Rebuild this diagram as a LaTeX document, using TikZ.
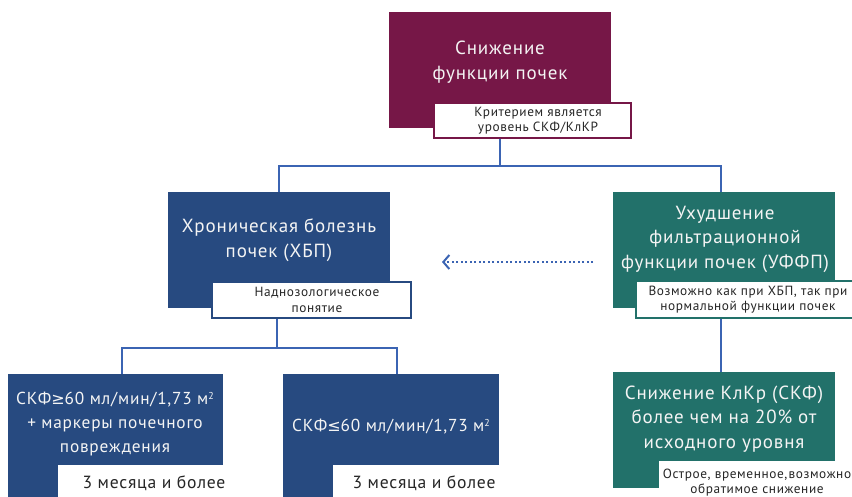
\documentclass[tikz,border=0pt]{standalone}
\usepackage{fontspec}
\setmainfont{PT Sans}[LetterSpace=4.5]
\newfontfamily\symfont{DejaVu Sans}
\usetikzlibrary{arrows.meta}
\definecolor{maroon}{HTML}{761747}
\definecolor{dblue}{HTML}{274A80}
\definecolor{teal2}{HTML}{22716A}
\definecolor{lblue}{HTML}{3B64B3}
\definecolor{offwhite}{HTML}{F4F4F4}
\newcommand{\sqm}{\raisebox{0.6ex}{\fontsize{10}{10}\selectfont 2}}
\tikzset{
  box/.style={rectangle, inner sep=0pt, draw=none},
  maintext/.style={text=offwhite, align=center, font=\fontsize{19}{24.5}\selectfont},
  smalltext/.style={text=offwhite, align=center, font=\fontsize{17.3}{24}\selectfont},
  lab/.style={rectangle, fill=white, line width=1.4pt, inner sep=0pt},
  labtext/.style={text=black!85, align=center, font=\fontsize{13.3}{15.5}\selectfont},
  bigtext/.style={text=black!85, font=\fontsize{17.6}{20}\selectfont},
  conn/.style={lblue, line width=1.5pt},
}
\begin{document}
\begin{tikzpicture}[x=1pt,y=-1pt]
\useasboundingbox (0,0) rectangle (852,496);
% top
\node[box, fill=maroon, minimum width=222pt, minimum height=116pt] (m) at (500,70) {};
\node[maintext] (mt) at (500,62) {Снижение\\функции почек};
\node[lab, draw=maroon, minimum width=197pt, minimum height=35pt] (ml) at (532.5,120.5) {};
\node[labtext] (mlt) at (538,120.5) {Критерием является\\уровень СКФ/КлКР};
% middle left
\node[box, fill=dblue, minimum width=222pt, minimum height=116pt] (h) at (279,250) {};
\node[maintext] (ht) at (279,240) {Хроническая болезнь\\почек (ХБП)};
\node[lab, draw=dblue, minimum width=199pt, minimum height=36pt] (hl) at (311.5,300) {};
\node[labtext] (hlt) at (317,300) {Наднозологическое\\понятие};
% middle right
\node[box, fill=teal2, minimum width=222pt, minimum height=116pt] (u) at (724,250) {};
\node[maintext] (ut) at (725,239) {Ухудшение\\фильтрационной\\функции почек (УФФП)};
\node[lab, draw=teal2, minimum width=224pt, minimum height=37pt] (ul) at (748,299.5) {};
\node[labtext] (ult) at (748,299.5) {Возможно как при ХБП, так при\\нормальной функции почек};
% bottom left
\node[box, fill=dblue, minimum width=215pt, minimum height=140pt] (b1) at (115.5,444) {};
\node[smalltext] (b1t) at (115,424) {СКФ{\symfont\fontsize{16}{16}\selectfont ≥}60 мл/мин/1,73 м\sqm\\+ маркеры почечного\\повреждения};
\node[lab, draw=white, minimum width=183pt, minimum height=50pt] (b1l) at (150.5,491) {};
\node[bigtext] (b1lt) at (154,483) {3 месяца и более};
% bottom middle
\node[box, fill=dblue, minimum width=216pt, minimum height=140pt] (b2) at (391,444) {};
\node[smalltext] (b2t) at (391,427) {СКФ{\symfont\fontsize{16}{16}\selectfont ≤}60 мл/мин/1,73 м\sqm};
\node[lab, draw=white, minimum width=185pt, minimum height=50pt] (b2l) at (426.5,491) {};
\node[bigtext] (b2lt) at (424,483) {3 месяца и более};
% bottom right
\node[box, fill=teal2, minimum width=222pt, minimum height=116pt] (r) at (724,430) {};
\node[maintext] (rt) at (724,419) {Снижение КлКр (СКФ)\\более чем на 20\% от\\исходного уровня};
\node[lab, draw=white, minimum width=200pt, minimum height=50pt] (rl) at (760,487) {};
\node[labtext] (rlt) at (757,482.5) {Острое, временное,возможно\\обратимое снижение};
% connectors
\coordinate (j1) at (500,166);
\draw[conn] (ml.south -| j1) -- (j1);
\draw[conn] (h.north) |- (j1) -| (721,192);
\coordinate (j2) at (277,348);
\draw[conn] (hl.south -| j2) -- (j2);
\draw[conn] (122,374) |- (j2) -| (397,374);
\draw[conn] (ul.south -| 721,0) -- (r.north -| 721,0);
\coordinate (as) at (593,262);
\coordinate (ae) at (442,262);
\draw[lblue, line width=2pt, dash pattern=on 2pt off 2.5pt, -{Straight Barb[length=6pt,width=14pt,line width=2pt]}] (as) -- (ae);
\end{tikzpicture}
\end{document}
